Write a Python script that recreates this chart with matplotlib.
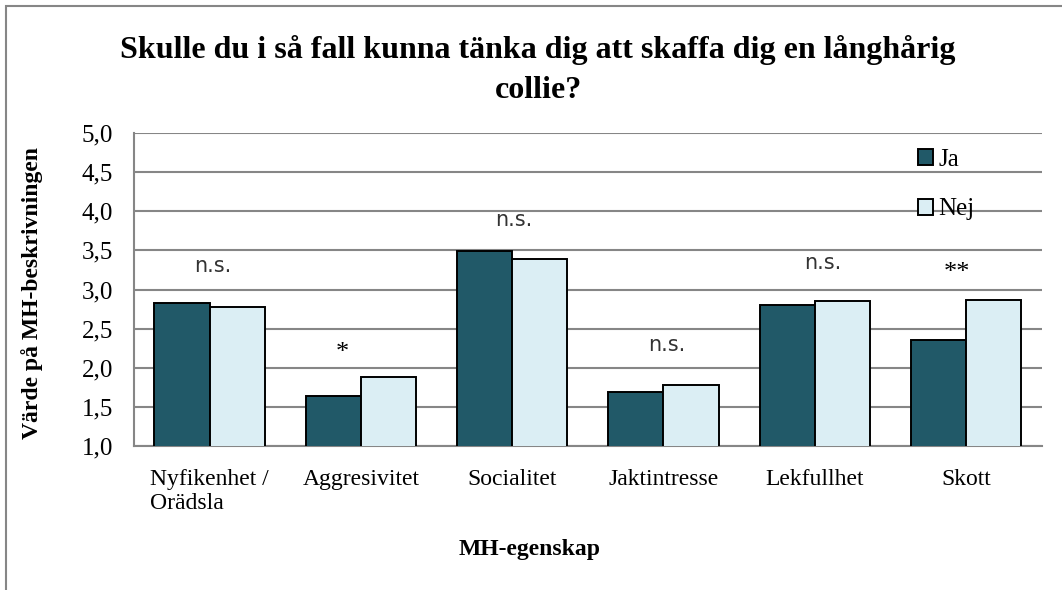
import matplotlib
matplotlib.use("Agg")
import matplotlib.pyplot as plt
import matplotlib.patches as mpatches
import numpy as np

categories = ["Nyfikenhet /\nOrädsla", "Aggresivitet", "Socialitet", "Jaktintresse", "Lekfullhet", "Skott"]
ja_values = [2.83, 1.63, 3.49, 1.69, 2.80, 2.35]
nej_values = [2.77, 1.88, 3.39, 1.78, 2.85, 2.86]
series_names = ["Ja", "Nej"]
annot_text = ["n.s.", "*", "n.s.", "n.s.", "n.s.", "**"]
annot_y = [3.30, 2.19, 3.89, 2.29, 3.34, 3.21]
annot_dx = [0.02, -0.12, 0.01, 0.02, 0.05, -0.06]
yticks = [1.0, 1.5, 2.0, 2.5, 3.0, 3.5, 4.0, 4.5, 5.0]

SERIF = ["Liberation Serif", "DejaVu Serif"]
plt.rcParams["font.family"] = SERIF

fig = plt.figure(figsize=(10.62, 5.90), dpi=100)
ax = fig.add_axes([134/1062, 1-445.7/590, (1041.7-134)/1062, (445.7-133.3)/590])

x = np.arange(len(categories))
w = 0.365
grid_c = "#868686"
ax.bar(x - w/2, ja_values, w, bottom=0, color="#215968", edgecolor="black", linewidth=1.4,
       label=series_names[0], zorder=3)
ax.bar(x + w/2, nej_values, w, bottom=0, color="#DBEEF4", edgecolor="black", linewidth=1.4,
       label=series_names[1], zorder=3)

ax.set_ylim(1.0, 5.0)
ax.set_xlim(-0.5, len(categories) - 0.5)
ax.set_yticks(yticks)
ax.set_yticklabels([f"{v:.1f}".replace(".", ",") for v in yticks], fontsize=18)
ax.set_xticks(x)
ax.set_xticklabels(categories, fontsize=17, linespacing=1.15, multialignment="left")
ax.tick_params(axis="both", length=0)
ax.tick_params(axis="y", pad=15)
ax.tick_params(axis="x", pad=17)
ax.yaxis.grid(True, color=grid_c, linewidth=1.5, zorder=0)
ax.set_axisbelow(True)
for s in ["top", "right"]:
    ax.spines[s].set_visible(False)
for s in ["left", "bottom"]:
    ax.spines[s].set_color(grid_c)
    ax.spines[s].set_linewidth(1.5)

for i, (t, yv, dx) in enumerate(zip(annot_text, annot_y, annot_dx)):
    if t.startswith("n"):
        ax.text(i + dx, yv, t, ha="center", va="center", fontsize=15,
                family="DejaVu Sans", color="#333333", zorder=4)
    else:
        ax.text(i + dx, yv, t, ha="center", va="center", fontsize=19,
                color="black", zorder=4)

leg = ax.legend(loc="upper left", bbox_to_anchor=(0.864, 0.950), frameon=False,
                fontsize=18, handlelength=0.6, handleheight=0.6, handletextpad=0.2,
                labelspacing=1.1, borderpad=0, borderaxespad=0)

fig.text(538/1062, 1-70/590, "Skulle du i så fall kunna tänka dig att skaffa dig en långhårig\ncollie?",
         ha="center", va="center", fontsize=23, fontweight="bold", linespacing=1.5)
fig.text(530/1062, 1-549/590, "MH-egenskap", ha="center", va="center", fontsize=17, fontweight="bold")
fig.text(32/1062, 1-293/590, "Värde på MH-beskrivningen", ha="center", va="center",
         rotation=90, fontsize=17, fontweight="bold")

border = mpatches.Rectangle((6/1062, -0.5), 2.0, 0.5 + 1 - 6/590, transform=fig.transFigure,
                            fill=False, edgecolor=grid_c, linewidth=1.5, clip_on=False)
fig.patches.append(border)

fig.savefig("out.png", dpi=100)
